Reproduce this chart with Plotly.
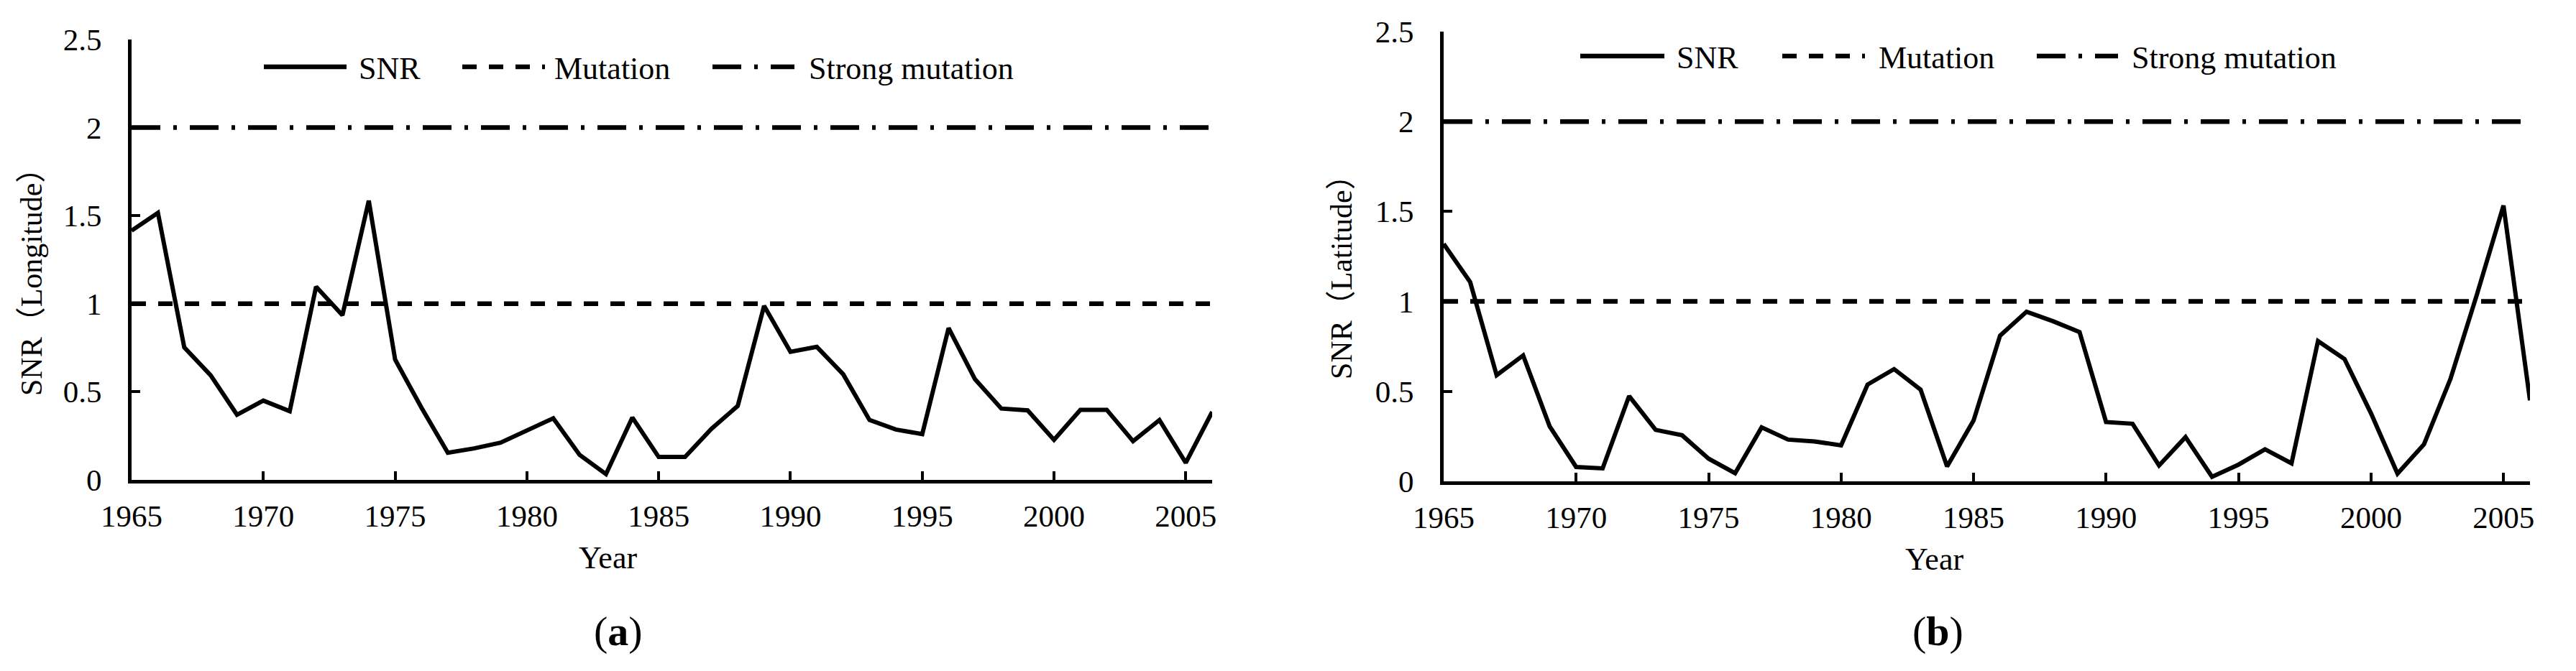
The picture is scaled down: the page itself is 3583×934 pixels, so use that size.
import plotly.graph_objects as go

W, H = 3583, 934
OFF = 8  # page body margin offset

years = list(range(1965, 2007))
snr_longitude = [1.415, 1.516, 0.752, 0.594, 0.37, 0.45, 0.39, 1.097, 0.935, 1.585,
                 0.683, 0.41, 0.154, 0.179, 0.211, 0.28, 0.35, 0.142, 0.033, 0.354,
                 0.13, 0.13, 0.29, 0.42, 0.988, 0.727, 0.755, 0.60, 0.34, 0.286,
                 0.26, 0.862, 0.572, 0.405, 0.395, 0.227, 0.398, 0.398, 0.22, 0.34,
                 0.097, 0.386]
snr_latitude = [1.32, 1.108, 0.59, 0.70, 0.306, 0.08, 0.072, 0.474, 0.286, 0.256,
                0.126, 0.045, 0.30, 0.232, 0.222, 0.20, 0.538, 0.624, 0.51, 0.083,
                0.338, 0.81, 0.943, 0.89, 0.83, 0.33, 0.32, 0.088, 0.246, 0.025,
                0.093, 0.178, 0.10, 0.78, 0.68, 0.378, 0.043, 0.206, 0.57, 1.04,
                1.533, 0.45]
mutation_level = 1.0
strong_mutation_level = 2.0
year_range = [1965, 2006]

x_tickvals = [1965, 1970, 1975, 1980, 1985, 1990, 1995, 2000, 2005]
x_ticktext = ["1965", "1970", "1975", "1980", "1985", "1990", "1995", "2000", "2005"]
y_tickvals = [0, 0.5, 1, 1.5, 2, 2.5]
y_ticktext = ["0", "0.5", "1", "1.5", "2", "2.5"]

legend_names = ["SNR", "Mutation", "Strong mutation"]
y_titles = ["SNR（Longitude）", "SNR（Latitude）"]
panel_labels = ["(<b>a</b>)", "(<b>b</b>)"]

FONT = "Liberation Serif, Times New Roman, Noto Sans CJK SC, serif"
MUT_DASH = "20px,17px"
STRONG_DASH = "40px,18px,5px,18px"
SNR_W = 6
REF_W = 6.5


def px(x):
    return (x - OFF) / W


def py(y):
    return 1 - (y - OFF) / H


fig = go.Figure()

panels = [
    dict(data=snr_longitude, xa="x", ya="y"),
    dict(data=snr_latitude, xa="x2", ya="y2"),
]

for p in panels:
    fig.add_trace(go.Scatter(x=years, y=p["data"], mode="lines", xaxis=p["xa"], yaxis=p["ya"],
                             line=dict(color="black", width=SNR_W), name=legend_names[0],
                             showlegend=False))
    fig.add_trace(go.Scatter(x=year_range, y=[mutation_level] * 2, mode="lines",
                             xaxis=p["xa"], yaxis=p["ya"],
                             line=dict(color="black", width=REF_W, dash=MUT_DASH),
                             name=legend_names[1], showlegend=False))
    fig.add_trace(go.Scatter(x=year_range, y=[strong_mutation_level] * 2, mode="lines",
                             xaxis=p["xa"], yaxis=p["ya"],
                             line=dict(color="black", width=REF_W, dash=STRONG_DASH),
                             name=legend_names[2], showlegend=False))

xaxis_common = dict(range=year_range, tickvals=x_tickvals, ticktext=x_ticktext,
                    ticks="inside", ticklen=12, tickwidth=4, tickcolor="black",
                    showline=True, linecolor="black", linewidth=5, showgrid=False,
                    zeroline=False, tickfont=dict(family=FONT, size=43, color="black"),
                    ticklabelstandoff=8, automargin=False)
yaxis_common = dict(range=[0, 2.5], tickvals=y_tickvals, ticktext=y_ticktext,
                    ticks="inside", ticklen=12, tickwidth=4, tickcolor="black",
                    showline=True, linecolor="black", linewidth=5, showgrid=False,
                    zeroline=False, tickfont=dict(family=FONT, size=43, color="black"),
                    ticklabelstandoff=28, automargin=False)

fig.update_layout(
    width=W, height=H,
    margin=dict(l=0, r=0, t=0, b=0, pad=0, autoexpand=False),
    paper_bgcolor="white", plot_bgcolor="white",
    showlegend=False,
    xaxis=dict(domain=[px(183), px(1686)], anchor="y", **xaxis_common),
    yaxis=dict(domain=[py(668), py(55)], anchor="x", **yaxis_common),
    xaxis2=dict(domain=[px(2008), px(3519)], anchor="y2", **xaxis_common),
    yaxis2=dict(domain=[py(670), py(44)], anchor="x2", **yaxis_common),
)

annotations = []
shapes = []

# axis titles and panel labels
for (xc, yc, ttl) in [(44, 382, y_titles[0]), (1866, 375, y_titles[1])]:
    annotations.append(dict(x=px(xc), y=py(yc), xref="paper", yref="paper", text=ttl,
                            textangle=-90, showarrow=False, xanchor="center", yanchor="middle",
                            font=dict(family=FONT, size=42, color="black")))
for (xc, yc) in [(845, 776), (2690, 778)]:
    annotations.append(dict(x=px(xc), y=py(yc), xref="paper", yref="paper", text="Year",
                            showarrow=False, xanchor="center", yanchor="middle",
                            font=dict(family=FONT, size=44, color="black")))
for (xc, yc, lbl) in [(860, 878, panel_labels[0]), (2695, 878, panel_labels[1])]:
    annotations.append(dict(x=px(xc), y=py(yc), xref="paper", yref="paper", text=lbl,
                            showarrow=False, xanchor="center", yanchor="middle",
                            font=dict(family=FONT, size=58, color="black")))

# manual legends
legend_specs = [
    dict(y=93, items=[(367, 482, 497, None), (643, 758, 769, MUT_DASH), (991, 1105, 1123, STRONG_DASH)]),
    dict(y=78, items=[(2198, 2315, 2330, None), (2479, 2594, 2611, MUT_DASH), (2833, 2946, 2963, STRONG_DASH)]),
]
for spec in legend_specs:
    for name, (x0, x1, xt, dash) in zip(legend_names, spec["items"]):
        line = dict(color="black", width=REF_W)
        if dash:
            line["dash"] = dash
        shapes.append(dict(type="line", xref="paper", yref="paper", x0=px(x0), x1=px(x1),
                           y0=py(spec["y"]), y1=py(spec["y"]), line=line))
        annotations.append(dict(x=px(xt), y=py(spec["y"] + 2), xref="paper", yref="paper",
                                text=name, showarrow=False, xanchor="left", yanchor="middle",
                                font=dict(family=FONT, size=44, color="black")))

fig.update_layout(annotations=annotations, shapes=shapes)

fig.write_html("out.html")
